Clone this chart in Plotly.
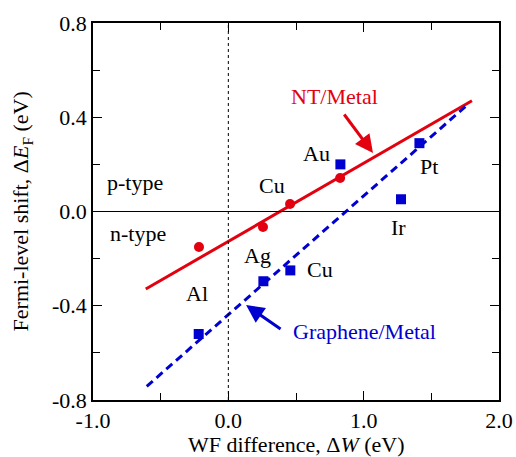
import plotly.graph_objects as go

# --- data ---
nt_x = [-0.217, 0.256, 0.456, 0.826]
nt_y = [-0.151, -0.066, 0.032, 0.142]
gr_x = [-0.219, 0.259, 0.458, 0.828, 1.276, 1.412]
gr_y = [-0.520, -0.296, -0.250, 0.200, 0.052, 0.290]
nt_fit_x = [-0.61, 1.80]
nt_fit_y = [-0.329, 0.470]
gr_fit_x = [-0.603, 1.757]
gr_fit_y = [-0.742, 0.448]

label_text = ["p-type", "n-type", "Cu", "Au", "Pt", "Ir", "Ag", "Cu", "Al"]
label_x = [-0.688, -0.667, 0.319, 0.648, 1.483, 1.254, 0.212, 0.678, -0.235]
label_y = [0.125, -0.095, 0.112, 0.248, 0.189, -0.066, -0.185, -0.248, -0.346]

RED = "#e3000f"
BLUE = "#0000d0"
FONT = "Liberation Serif"

fig = go.Figure()
fig.add_trace(go.Scatter(x=nt_fit_x, y=nt_fit_y, mode="lines",
                         line=dict(color=RED, width=3), showlegend=False))
fig.add_trace(go.Scatter(x=gr_fit_x, y=gr_fit_y, mode="lines",
                         line=dict(color=BLUE, width=3, dash="8px,5px"), showlegend=False))
fig.add_trace(go.Scatter(x=nt_x, y=nt_y, mode="markers",
                         marker=dict(color=RED, size=10, symbol="circle"), showlegend=False))
fig.add_trace(go.Scatter(x=gr_x, y=gr_y, mode="markers",
                         marker=dict(color=BLUE, size=10, symbol="square"), showlegend=False))

# reference lines
fig.add_shape(type="line", xref="x", yref="y", x0=-1, x1=2, y0=0, y1=0,
              line=dict(color="black", width=1.2))
fig.add_shape(type="line", xref="x", yref="y", x0=0, x1=0, y0=-0.8, y1=0.8,
              line=dict(color="black", width=1, dash="dot"))

for t, x, y in zip(label_text, label_x, label_y):
    fig.add_annotation(x=x, y=y, text=t, showarrow=False,
                       font=dict(family=FONT, size=22, color="black"))

fig.add_annotation(x=0.781, y=0.486, text="NT/Metal", showarrow=False,
                   font=dict(family=FONT, size=22, color=RED))
fig.add_annotation(x=1.003, y=-0.511, text="Graphene/Metal", showarrow=False,
                   font=dict(family=FONT, size=22, color=BLUE))

# arrows
fig.add_annotation(x=1.069, y=0.248, ax=0.848, ay=0.418, xref="x", yref="y",
                   axref="x", ayref="y", text="", showarrow=True,
                   arrowhead=2, arrowsize=1.2, arrowwidth=3, arrowcolor=RED)
fig.add_annotation(x=0.131, y=-0.397, ax=0.397, ay=-0.503, xref="x", yref="y",
                   axref="x", ayref="y", text="", showarrow=True,
                   arrowhead=2, arrowsize=1.2, arrowwidth=3, arrowcolor=BLUE)

# axis titles
fig.add_annotation(xref="paper", yref="paper", x=0.5, y=-0.119,
                   text="WF difference, Δ<i>W</i> (eV)", showarrow=False,
                   xanchor="center", yanchor="middle",
                   font=dict(family=FONT, size=22, color="black"))
fig.add_annotation(xref="paper", yref="paper", x=-0.175, y=0.5, textangle=-90,
                   text="Fermi-level shift, Δ<i>E</i><sub>F</sub> (eV)", showarrow=False,
                   xanchor="center", yanchor="middle",
                   font=dict(family=FONT, size=22, color="black"))

axis_common = dict(showgrid=False, zeroline=False, showline=True, linecolor="black",
                   linewidth=1.5, mirror="ticks", ticks="inside", ticklen=9,
                   tickcolor="black", tickwidth=1, automargin=False,
                   tickfont=dict(family=FONT, size=22, color="black"))

fig.update_xaxes(range=[-1, 2], tickvals=[-1, 0, 1, 2],
                 ticktext=["-1.0", "0.0", "1.0", "2.0"],
                 minor=dict(tickvals=[-0.5, 0.5, 1.5], ticks="inside", ticklen=7,
                            tickcolor="black", tickwidth=1),
                 **axis_common)
fig.update_yaxes(range=[-0.8, 0.8], tickvals=[-0.8, -0.4, 0, 0.4, 0.8],
                 ticktext=["-0.8", "-0.4", "0.0", "0.4", "0.8"],
                 minor=dict(tickvals=[-0.6, -0.2, 0.2, 0.6], ticks="inside", ticklen=7,
                            tickcolor="black", tickwidth=1),
                 **axis_common)

fig.update_layout(width=516, height=457, margin=dict(l=93, r=17, t=23, b=57),
                  plot_bgcolor="white", paper_bgcolor="white", showlegend=False)

fig.write_html("out.html")
